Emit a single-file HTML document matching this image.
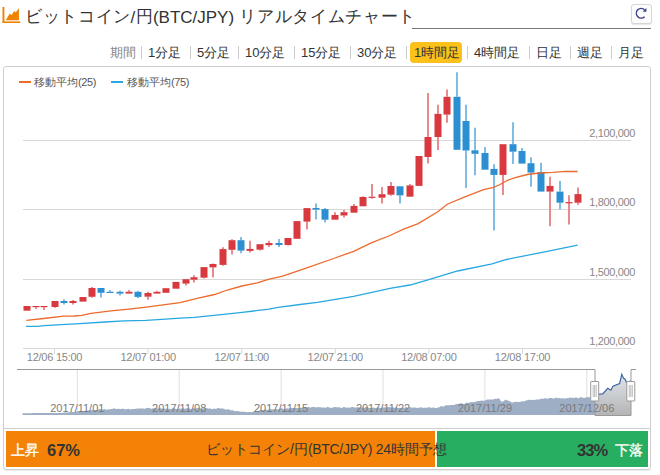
<!DOCTYPE html>
<html><head><meta charset="utf-8">
<style>
*{box-sizing:border-box}
html,body{margin:0;padding:0;width:660px;height:475px;overflow:hidden;background:#fff;font-family:"Liberation Sans",sans-serif;color:#333}
.abs{position:absolute}
.c{display:inline-block;width:1em;text-align:center}
.jp .c{width:calc(1em + 0.6px);position:relative;top:-1px}.jp2 .c{width:calc(1em + 0.7px);position:relative;top:-1px}
.tofu .c{transform:translate(0.06em,-0.02em) scale(1.45,1.2)}
.lgd{font-size:11px;line-height:14px;color:#555;white-space:nowrap;top:75px}
.title{left:25px;top:5.5px;font-size:17px;line-height:24px;white-space:nowrap;color:#333}
.uline{left:412px;top:28px;width:239px;height:1px;background:#777}
.btn{left:631px;top:4px;width:21px;height:20px;border:1px solid #d6d6d6;border-radius:3px;background:#fcfcfc;box-shadow:0 1px 1px rgba(0,0,0,.1)}
.tab{top:43px;font-size:13px;line-height:20px;white-space:nowrap;color:#333}
.sep{top:46px;width:1px;height:13px;background:#ccc}
.act{left:410px;top:42px;width:52px;height:21px;background:#fcc11a;border-radius:4px}
.box{left:3px;top:66px;width:648px;height:404px;border:1px solid #cfcfcf;border-radius:3px;box-shadow:0 1px 1px rgba(0,0,0,.08)}
.hsep{left:4px;top:428px;width:646px;height:1px;background:#cfcfcf}
.bar1{left:6px;top:431px;width:429px;height:36px;background:#f38206}
.bar2{left:437px;top:431px;width:211px;height:36px;background:#28ae60}
.btxt{top:431px;height:36px;line-height:36px;white-space:nowrap}
svg text{font-family:"Liberation Sans",sans-serif}
.yl{font-size:11px;fill:#888;letter-spacing:-0.35px}
.xl{font-size:11px;fill:#888;letter-spacing:-0.25px}
.lg{font-size:11px;fill:#555}
.nl{font-size:11px;fill:#7a7a7a}
</style></head><body>
<svg class="abs" style="left:2px;top:6px" width="20" height="18" viewBox="0 0 20 18">
<rect x="0.5" y="1" width="1.9" height="16" fill="#ef8200"/>
<rect x="0.5" y="15.4" width="17.7" height="1.6" fill="#ef8200"/>
<path d="M3.7,14.2 L7.8,7.6 L9.4,9.2 L12.2,5.1 L13.8,6.6 L16.8,1.9 L17,14.2 Z" fill="#ef8200"/>
</svg>
<div class="abs title"><span class="jp"><span class="c">ビ</span><span class="c">ッ</span><span class="c">ト</span><span class="c">コ</span><span class="c">イ</span><span class="c">ン</span>/<span class="c">円</span></span>(BTC/JPY) <span class="jp2"><span class="c">リ</span><span class="c">ア</span><span class="c">ル</span><span class="c">タ</span><span class="c">イ</span><span class="c">ム</span><span class="c">チ</span><span class="c">ャ</span><span class="c">ー</span><span class="c">ト</span></span></div>
<div class="abs uline"></div>
<div class="abs btn"></div>
<svg class="abs" style="left:632px;top:5px" width="18" height="17" viewBox="0 0 18 17">
<path d="M12.6,4.8 A4.85,4.85 0 1 0 12.6,11.7" fill="none" stroke="#3c3d8a" stroke-width="1.45"/>
<path d="M10.6,6.7 L14.4,2.9 L14.4,6.7 Z" fill="#3c3d8a"/>
</svg>
<div class="abs act"></div>
<div class="abs tab" style="left:110px;color:#888"><span class="c">期</span><span class="c">間</span></div>
<div class="abs sep" style="left:141px"></div>
<div class="abs tab" style="left:148px">1<span class="c">分</span><span class="c">足</span></div>
<div class="abs sep" style="left:190px"></div>
<div class="abs tab" style="left:197px">5<span class="c">分</span><span class="c">足</span></div>
<div class="abs sep" style="left:238px"></div>
<div class="abs tab" style="left:245px">10<span class="c">分</span><span class="c">足</span></div>
<div class="abs sep" style="left:294px"></div>
<div class="abs tab" style="left:301px">15<span class="c">分</span><span class="c">足</span></div>
<div class="abs sep" style="left:350px"></div>
<div class="abs tab" style="left:357px">30<span class="c">分</span><span class="c">足</span></div>
<div class="abs sep" style="left:406px"></div>
<div class="abs tab" style="left:414px">1<span class="c">時</span><span class="c">間</span><span class="c">足</span></div>
<div class="abs sep" style="left:467px"></div>
<div class="abs tab" style="left:474px">4<span class="c">時</span><span class="c">間</span><span class="c">足</span></div>
<div class="abs sep" style="left:529px"></div>
<div class="abs tab" style="left:536px"><span class="c">日</span><span class="c">足</span></div>
<div class="abs sep" style="left:570px"></div>
<div class="abs tab" style="left:577px"><span class="c">週</span><span class="c">足</span></div>
<div class="abs sep" style="left:611px"></div>
<div class="abs tab" style="left:618px"><span class="c">月</span><span class="c">足</span></div>
<div class="abs box"></div>
<svg class="abs" style="left:0;top:0" width="660" height="475">
<line x1="23" y1="140.5" x2="631" y2="140.5" stroke="#d8d8d8" stroke-width="1"/>
<text x="635" y="137.0" text-anchor="end" class="yl">2,100,000</text>
<line x1="23" y1="209.5" x2="631" y2="209.5" stroke="#d8d8d8" stroke-width="1"/>
<text x="635" y="206.0" text-anchor="end" class="yl">1,800,000</text>
<line x1="23" y1="279.5" x2="631" y2="279.5" stroke="#d8d8d8" stroke-width="1"/>
<text x="635" y="276.0" text-anchor="end" class="yl">1,500,000</text>
<line x1="23" y1="348.5" x2="631" y2="348.5" stroke="#d8d8d8" stroke-width="1"/>
<text x="635" y="345.0" text-anchor="end" class="yl">1,200,000</text>
<line x1="54.5" y1="348" x2="54.5" y2="354" stroke="#d8d8d8"/>
<text x="54.5" y="361" text-anchor="middle" class="xl">12/06 15:00</text>
<line x1="148.1" y1="348" x2="148.1" y2="354" stroke="#d8d8d8"/>
<text x="148.1" y="361" text-anchor="middle" class="xl">12/07 01:00</text>
<line x1="241.7" y1="348" x2="241.7" y2="354" stroke="#d8d8d8"/>
<text x="241.7" y="361" text-anchor="middle" class="xl">12/07 11:00</text>
<line x1="335.29999999999995" y1="348" x2="335.29999999999995" y2="354" stroke="#d8d8d8"/>
<text x="335.29999999999995" y="361" text-anchor="middle" class="xl">12/07 21:00</text>
<line x1="428.9" y1="348" x2="428.9" y2="354" stroke="#d8d8d8"/>
<text x="428.9" y="361" text-anchor="middle" class="xl">12/08 07:00</text>
<line x1="522.5" y1="348" x2="522.5" y2="354" stroke="#d8d8d8"/>
<text x="522.5" y="361" text-anchor="middle" class="xl">12/08 17:00</text>
<rect x="23.50" y="306" width="7" height="4.7" fill="#d8393e"/>
<line x1="36.00" y1="307.2" x2="36.00" y2="309" stroke="#e98b8e" stroke-width="2"/>
<rect x="32.50" y="306" width="7" height="1.2" fill="#d8393e"/>
<line x1="44.00" y1="307.2" x2="44.00" y2="310" stroke="#e98b8e" stroke-width="2"/>
<rect x="40.50" y="306" width="7" height="1.2" fill="#d8393e"/>
<line x1="55.00" y1="307" x2="55.00" y2="307.7" stroke="#e98b8e" stroke-width="2"/>
<rect x="51.50" y="301" width="7" height="6.0" fill="#d8393e"/>
<line x1="64.00" y1="299.3" x2="64.00" y2="301" stroke="#80bde6" stroke-width="2"/>
<line x1="64.00" y1="303" x2="64.00" y2="304.4" stroke="#80bde6" stroke-width="2"/>
<rect x="60.50" y="301" width="7" height="2.0" fill="#2b8fd1"/>
<line x1="73.00" y1="300" x2="73.00" y2="301" stroke="#e98b8e" stroke-width="2"/>
<line x1="73.00" y1="303" x2="73.00" y2="304.4" stroke="#e98b8e" stroke-width="2"/>
<rect x="69.50" y="301" width="7" height="2.0" fill="#d8393e"/>
<rect x="79.50" y="297" width="7" height="4.6" fill="#d8393e"/>
<line x1="92.00" y1="287" x2="92.00" y2="288" stroke="#e98b8e" stroke-width="2"/>
<line x1="92.00" y1="296.8" x2="92.00" y2="297.8" stroke="#e98b8e" stroke-width="2"/>
<rect x="88.50" y="288" width="7" height="8.8" fill="#d8393e"/>
<line x1="101.00" y1="292.8" x2="101.00" y2="297.6" stroke="#80bde6" stroke-width="2"/>
<rect x="97.50" y="288" width="7" height="4.8" fill="#2b8fd1"/>
<line x1="110.00" y1="290" x2="110.00" y2="291.8" stroke="#80bde6" stroke-width="2"/>
<rect x="106.50" y="291.8" width="7" height="1.2" fill="#2b8fd1"/>
<line x1="120.00" y1="290.4" x2="120.00" y2="291.8" stroke="#80bde6" stroke-width="2"/>
<line x1="120.00" y1="293.6" x2="120.00" y2="295.5" stroke="#80bde6" stroke-width="2"/>
<rect x="116.50" y="291.8" width="7" height="1.8" fill="#2b8fd1"/>
<line x1="129.00" y1="290" x2="129.00" y2="291.8" stroke="#e98b8e" stroke-width="2"/>
<rect x="125.50" y="291.8" width="7" height="1.8" fill="#d8393e"/>
<line x1="138.00" y1="290.8" x2="138.00" y2="291.8" stroke="#80bde6" stroke-width="2"/>
<line x1="138.00" y1="296.9" x2="138.00" y2="297.9" stroke="#80bde6" stroke-width="2"/>
<rect x="134.50" y="291.8" width="7" height="5.1" fill="#2b8fd1"/>
<line x1="148.00" y1="291.8" x2="148.00" y2="293" stroke="#e98b8e" stroke-width="2"/>
<line x1="148.00" y1="296.7" x2="148.00" y2="299.7" stroke="#e98b8e" stroke-width="2"/>
<rect x="144.50" y="293" width="7" height="3.7" fill="#d8393e"/>
<line x1="157.00" y1="290.8" x2="157.00" y2="291.8" stroke="#e98b8e" stroke-width="2"/>
<rect x="153.50" y="291.8" width="7" height="1.8" fill="#d8393e"/>
<rect x="162.50" y="288.2" width="7" height="4.6" fill="#d8393e"/>
<rect x="172.50" y="281.9" width="7" height="6.8" fill="#d8393e"/>
<line x1="186.00" y1="283.6" x2="186.00" y2="285.6" stroke="#e98b8e" stroke-width="2"/>
<rect x="182.50" y="279.2" width="7" height="4.4" fill="#d8393e"/>
<line x1="194.00" y1="275.2" x2="194.00" y2="277.2" stroke="#e98b8e" stroke-width="2"/>
<line x1="194.00" y1="279.7" x2="194.00" y2="282.6" stroke="#e98b8e" stroke-width="2"/>
<rect x="190.50" y="277.2" width="7" height="2.5" fill="#d8393e"/>
<line x1="204.00" y1="277.7" x2="204.00" y2="278.5" stroke="#e98b8e" stroke-width="2"/>
<rect x="200.50" y="267.1" width="7" height="10.6" fill="#d8393e"/>
<line x1="213.00" y1="263.4" x2="213.00" y2="264" stroke="#e98b8e" stroke-width="2"/>
<line x1="213.00" y1="267.4" x2="213.00" y2="277.5" stroke="#e98b8e" stroke-width="2"/>
<rect x="209.50" y="264" width="7" height="3.4" fill="#d8393e"/>
<line x1="223.00" y1="247.2" x2="223.00" y2="249.1" stroke="#e98b8e" stroke-width="2"/>
<line x1="223.00" y1="264.9" x2="223.00" y2="265.8" stroke="#e98b8e" stroke-width="2"/>
<rect x="219.50" y="249.1" width="7" height="15.8" fill="#d8393e"/>
<line x1="232.00" y1="239.3" x2="232.00" y2="240.2" stroke="#e98b8e" stroke-width="2"/>
<line x1="232.00" y1="249.8" x2="232.00" y2="254.5" stroke="#e98b8e" stroke-width="2"/>
<rect x="228.50" y="240.2" width="7" height="9.6" fill="#d8393e"/>
<line x1="241.00" y1="237.1" x2="241.00" y2="240.2" stroke="#80bde6" stroke-width="2"/>
<line x1="241.00" y1="250.6" x2="241.00" y2="253.3" stroke="#80bde6" stroke-width="2"/>
<rect x="237.50" y="240.2" width="7" height="10.4" fill="#2b8fd1"/>
<line x1="250.00" y1="240.8" x2="250.00" y2="248.9" stroke="#e98b8e" stroke-width="2"/>
<line x1="250.00" y1="250.9" x2="250.00" y2="252.6" stroke="#e98b8e" stroke-width="2"/>
<rect x="246.50" y="248.9" width="7" height="2.0" fill="#d8393e"/>
<line x1="260.00" y1="249.7" x2="260.00" y2="250.6" stroke="#e98b8e" stroke-width="2"/>
<rect x="256.50" y="244.2" width="7" height="5.5" fill="#d8393e"/>
<line x1="269.00" y1="240.8" x2="269.00" y2="243" stroke="#e98b8e" stroke-width="2"/>
<line x1="269.00" y1="245.2" x2="269.00" y2="246.9" stroke="#e98b8e" stroke-width="2"/>
<rect x="265.50" y="243" width="7" height="2.2" fill="#d8393e"/>
<line x1="279.00" y1="239.1" x2="279.00" y2="243" stroke="#80bde6" stroke-width="2"/>
<line x1="279.00" y1="245" x2="279.00" y2="246.9" stroke="#80bde6" stroke-width="2"/>
<rect x="275.50" y="243" width="7" height="2.0" fill="#2b8fd1"/>
<line x1="288.00" y1="245" x2="288.00" y2="245.5" stroke="#e98b8e" stroke-width="2"/>
<rect x="284.50" y="238" width="7" height="7.0" fill="#d8393e"/>
<rect x="293.50" y="221.1" width="7" height="17.7" fill="#d8393e"/>
<line x1="307.00" y1="221.6" x2="307.00" y2="229.5" stroke="#e98b8e" stroke-width="2"/>
<rect x="303.50" y="208.1" width="7" height="13.5" fill="#d8393e"/>
<line x1="316.00" y1="203.4" x2="316.00" y2="208" stroke="#80bde6" stroke-width="2"/>
<line x1="316.00" y1="209.6" x2="316.00" y2="219.5" stroke="#80bde6" stroke-width="2"/>
<rect x="312.50" y="208" width="7" height="1.6" fill="#2b8fd1"/>
<line x1="325.00" y1="208" x2="325.00" y2="209.1" stroke="#80bde6" stroke-width="2"/>
<line x1="325.00" y1="219.7" x2="325.00" y2="222.6" stroke="#80bde6" stroke-width="2"/>
<rect x="321.50" y="209.1" width="7" height="10.6" fill="#2b8fd1"/>
<line x1="335.00" y1="212.2" x2="335.00" y2="215" stroke="#e98b8e" stroke-width="2"/>
<rect x="331.50" y="215" width="7" height="4.7" fill="#d8393e"/>
<line x1="344.00" y1="210.1" x2="344.00" y2="212.2" stroke="#e98b8e" stroke-width="2"/>
<line x1="344.00" y1="215.5" x2="344.00" y2="217.5" stroke="#e98b8e" stroke-width="2"/>
<rect x="340.50" y="212.2" width="7" height="3.3" fill="#d8393e"/>
<line x1="354.00" y1="204.1" x2="354.00" y2="205.9" stroke="#e98b8e" stroke-width="2"/>
<rect x="350.50" y="205.9" width="7" height="6.8" fill="#d8393e"/>
<line x1="363.00" y1="196.2" x2="363.00" y2="197" stroke="#e98b8e" stroke-width="2"/>
<rect x="359.50" y="197" width="7" height="9.3" fill="#d8393e"/>
<line x1="372.00" y1="183.9" x2="372.00" y2="196.7" stroke="#e98b8e" stroke-width="2"/>
<line x1="372.00" y1="197.8" x2="372.00" y2="198.7" stroke="#e98b8e" stroke-width="2"/>
<rect x="368.50" y="196.7" width="7" height="1.2" fill="#d8393e"/>
<line x1="382.00" y1="187.1" x2="382.00" y2="194.2" stroke="#e98b8e" stroke-width="2"/>
<line x1="382.00" y1="197.7" x2="382.00" y2="203.5" stroke="#e98b8e" stroke-width="2"/>
<rect x="378.50" y="194.2" width="7" height="3.5" fill="#d8393e"/>
<line x1="391.00" y1="182.1" x2="391.00" y2="186" stroke="#e98b8e" stroke-width="2"/>
<line x1="391.00" y1="194.7" x2="391.00" y2="195.8" stroke="#e98b8e" stroke-width="2"/>
<rect x="387.50" y="186" width="7" height="8.7" fill="#d8393e"/>
<line x1="400.00" y1="195.4" x2="400.00" y2="203.4" stroke="#80bde6" stroke-width="2"/>
<rect x="396.50" y="186.3" width="7" height="9.1" fill="#2b8fd1"/>
<line x1="410.00" y1="184" x2="410.00" y2="185.4" stroke="#e98b8e" stroke-width="2"/>
<rect x="406.50" y="185.4" width="7" height="11.3" fill="#d8393e"/>
<rect x="415.50" y="156" width="7" height="29.9" fill="#d8393e"/>
<line x1="428.00" y1="93" x2="428.00" y2="137" stroke="#e98b8e" stroke-width="2"/>
<line x1="428.00" y1="157" x2="428.00" y2="163.6" stroke="#e98b8e" stroke-width="2"/>
<rect x="424.50" y="137" width="7" height="20.0" fill="#d8393e"/>
<line x1="438.00" y1="104.8" x2="438.00" y2="113.9" stroke="#e98b8e" stroke-width="2"/>
<line x1="438.00" y1="137" x2="438.00" y2="149.9" stroke="#e98b8e" stroke-width="2"/>
<rect x="434.50" y="113.9" width="7" height="23.1" fill="#d8393e"/>
<line x1="447.00" y1="89.6" x2="447.00" y2="96.8" stroke="#e98b8e" stroke-width="2"/>
<line x1="447.00" y1="114.6" x2="447.00" y2="122.8" stroke="#e98b8e" stroke-width="2"/>
<rect x="443.50" y="96.8" width="7" height="17.8" fill="#d8393e"/>
<line x1="457.00" y1="72.2" x2="457.00" y2="96.8" stroke="#80bde6" stroke-width="2"/>
<rect x="453.50" y="96.8" width="7" height="53.0" fill="#2b8fd1"/>
<line x1="466.00" y1="104.8" x2="466.00" y2="121" stroke="#80bde6" stroke-width="2"/>
<line x1="466.00" y1="150.5" x2="466.00" y2="188" stroke="#80bde6" stroke-width="2"/>
<rect x="462.50" y="121" width="7" height="29.5" fill="#2b8fd1"/>
<line x1="475.00" y1="127.8" x2="475.00" y2="150.3" stroke="#80bde6" stroke-width="2"/>
<line x1="475.00" y1="153.8" x2="475.00" y2="175.2" stroke="#80bde6" stroke-width="2"/>
<rect x="471.50" y="150.3" width="7" height="3.5" fill="#2b8fd1"/>
<line x1="485.00" y1="147" x2="485.00" y2="153" stroke="#80bde6" stroke-width="2"/>
<rect x="481.50" y="153" width="7" height="16.7" fill="#2b8fd1"/>
<line x1="494.00" y1="164.2" x2="494.00" y2="168.9" stroke="#80bde6" stroke-width="2"/>
<line x1="494.00" y1="174.9" x2="494.00" y2="230.5" stroke="#80bde6" stroke-width="2"/>
<rect x="490.50" y="168.9" width="7" height="6.0" fill="#2b8fd1"/>
<line x1="503.00" y1="174.9" x2="503.00" y2="194.9" stroke="#e98b8e" stroke-width="2"/>
<rect x="499.50" y="144.2" width="7" height="30.7" fill="#d8393e"/>
<line x1="513.00" y1="122.3" x2="513.00" y2="144.2" stroke="#80bde6" stroke-width="2"/>
<line x1="513.00" y1="151.7" x2="513.00" y2="164" stroke="#80bde6" stroke-width="2"/>
<rect x="509.50" y="144.2" width="7" height="7.5" fill="#2b8fd1"/>
<line x1="522.00" y1="148" x2="522.00" y2="151" stroke="#80bde6" stroke-width="2"/>
<rect x="518.50" y="151" width="7" height="12.6" fill="#2b8fd1"/>
<line x1="531.00" y1="157.3" x2="531.00" y2="163.2" stroke="#80bde6" stroke-width="2"/>
<line x1="531.00" y1="172.6" x2="531.00" y2="186.7" stroke="#80bde6" stroke-width="2"/>
<rect x="527.50" y="163.2" width="7" height="9.4" fill="#2b8fd1"/>
<line x1="541.00" y1="162.7" x2="541.00" y2="172" stroke="#80bde6" stroke-width="2"/>
<rect x="537.50" y="172" width="7" height="19.6" fill="#2b8fd1"/>
<line x1="550.00" y1="176.8" x2="550.00" y2="185.9" stroke="#e98b8e" stroke-width="2"/>
<line x1="550.00" y1="191.6" x2="550.00" y2="226.3" stroke="#e98b8e" stroke-width="2"/>
<rect x="546.50" y="185.9" width="7" height="5.7" fill="#d8393e"/>
<line x1="560.00" y1="181" x2="560.00" y2="191.6" stroke="#80bde6" stroke-width="2"/>
<line x1="560.00" y1="202.7" x2="560.00" y2="209.5" stroke="#80bde6" stroke-width="2"/>
<rect x="556.50" y="191.6" width="7" height="11.1" fill="#2b8fd1"/>
<line x1="569.00" y1="195.2" x2="569.00" y2="202.1" stroke="#e98b8e" stroke-width="2"/>
<line x1="569.00" y1="202.9" x2="569.00" y2="224.6" stroke="#e98b8e" stroke-width="2"/>
<rect x="565.50" y="202.1" width="7" height="1.2" fill="#d8393e"/>
<line x1="578.00" y1="187.4" x2="578.00" y2="194.1" stroke="#e98b8e" stroke-width="2"/>
<line x1="578.00" y1="202.7" x2="578.00" y2="204.8" stroke="#e98b8e" stroke-width="2"/>
<rect x="574.50" y="194.1" width="7" height="8.6" fill="#d8393e"/>
<polyline points="26.0,326.3 37.0,326.3 44.2,325.6 56.4,324.9 75.8,323.9 104.8,322.0 124.2,320.8 146.0,320.3 165.5,319.1 180.0,318.2 194.5,317.3 216.4,315.1 240.0,312.7 269.1,309.1 278.2,307.3 300.0,304.5 317.3,302.3 353.6,296.3 390.0,288.3 410.0,285.0 428.8,279.6 457.6,271.0 492.1,263.8 506.5,259.5 549.7,250.8 577.6,245.1" fill="none" stroke="#29a8e0" stroke-width="1.3"/>
<polyline points="26.4,320.4 43.6,318.5 63.6,316.2 74.5,316.0 81.8,315.3 90.9,313.3 110.9,310.9 129.0,309.1 148.2,306.9 180.0,302.6 198.2,298.2 214.5,294.5 227.3,290.0 241.8,286.0 258.2,282.7 269.1,279.1 281.8,276.4 290.0,273.6 308.2,267.3 333.6,258.5 353.6,251.3 371.8,242.7 390.0,235.5 403.6,229.1 418.2,223.6 438.2,211.5 447.3,204.2 463.6,197.3 483.6,189.6 493.6,187.3 500.0,184.5 507.6,180.3 515.2,177.7 527.3,174.5 539.4,173.0 553.0,172.3 565.2,171.4 577.6,171.5" fill="none" stroke="#ec6a2c" stroke-width="1.3"/>
<line x1="19" y1="82" x2="31" y2="82" stroke="#ec6a2c" stroke-width="2"/>
<line x1="111" y1="82" x2="123" y2="82" stroke="#29a8e0" stroke-width="2"/>
<line x1="77.3" y1="370" x2="77.3" y2="415" stroke="#e0e0e0"/>
<line x1="179.2" y1="370" x2="179.2" y2="415" stroke="#e0e0e0"/>
<line x1="281.1" y1="370" x2="281.1" y2="415" stroke="#e0e0e0"/>
<line x1="383.0" y1="370" x2="383.0" y2="415" stroke="#e0e0e0"/>
<line x1="484.9" y1="370" x2="484.9" y2="415" stroke="#e0e0e0"/>
<line x1="586.8" y1="370" x2="586.8" y2="415" stroke="#e0e0e0"/>
<path d="M22.4,415 L22.4,413.2 L23.9,413.2 L25.4,413.2 L26.9,413.2 L28.4,413.2 L29.9,413.2 L31.4,413.2 L32.9,413.1 L34.4,413.1 L35.9,413.1 L37.4,413.1 L38.9,413.1 L40.4,413.1 L41.9,413.1 L43.4,413.1 L44.9,413.1 L46.4,413.1 L47.9,413.1 L49.4,413.1 L50.9,413.0 L52.4,413.0 L53.9,413.0 L55.4,413.0 L56.9,413.0 L58.4,413.0 L59.9,413.0 L61.4,412.9 L62.9,412.8 L64.4,412.6 L65.9,412.5 L67.4,412.4 L68.9,412.2 L70.4,412.1 L71.9,412.0 L73.4,411.9 L74.9,411.7 L76.4,411.6 L77.9,411.5 L79.4,411.3 L80.9,411.2 L82.4,411.1 L83.9,411.0 L85.4,410.8 L86.9,410.7 L88.4,410.6 L89.9,410.4 L91.4,410.0 L92.9,410.2 L94.4,409.9 L95.9,410.1 L97.4,410.0 L98.9,409.3 L100.4,409.1 L101.9,410.0 L103.4,409.3 L104.9,409.1 L106.4,409.9 L107.9,409.2 L109.4,409.5 L110.9,408.9 L112.4,409.0 L113.9,408.3 L115.4,408.7 L116.9,409.0 L118.4,408.7 L119.9,409.0 L121.4,409.0 L122.9,408.4 L124.4,409.3 L125.9,409.2 L127.4,408.9 L128.9,408.7 L130.4,409.7 L131.9,409.0 L133.4,409.1 L134.9,409.1 L136.4,408.6 L137.9,408.8 L139.4,408.2 L140.9,408.7 L142.4,408.2 L143.9,408.8 L145.4,408.8 L146.9,407.8 L148.4,407.9 L149.9,408.0 L151.4,408.9 L152.9,408.3 L154.4,408.5 L155.9,408.1 L157.4,408.4 L158.9,408.2 L160.4,408.2 L161.9,408.5 L163.4,408.5 L164.9,408.9 L166.4,408.6 L167.9,408.9 L169.4,408.8 L170.9,409.0 L172.4,408.6 L173.9,408.0 L175.4,408.8 L176.9,409.0 L178.4,408.9 L179.9,408.5 L181.4,408.7 L182.9,408.1 L184.4,408.8 L185.9,408.5 L187.4,408.2 L188.9,407.9 L190.4,408.9 L191.9,409.0 L193.4,407.9 L194.9,408.8 L196.4,408.3 L197.9,408.0 L199.4,408.2 L200.9,408.8 L202.4,408.9 L203.9,407.9 L205.4,408.6 L206.9,407.9 L208.4,408.7 L209.9,408.3 L211.4,408.9 L212.9,409.1 L214.4,408.5 L215.9,409.1 L217.4,408.3 L218.9,408.0 L220.4,408.8 L221.9,408.3 L223.4,408.7 L224.9,409.2 L226.4,409.7 L227.9,409.3 L229.4,409.4 L230.9,410.6 L232.4,410.1 L233.9,411.1 L235.4,411.3 L236.9,410.9 L238.4,411.2 L239.9,411.5 L241.4,411.7 L242.9,411.7 L244.4,411.8 L245.9,411.9 L247.4,412.3 L248.9,411.9 L250.4,411.9 L251.9,412.3 L253.4,411.4 L254.9,411.1 L256.4,411.6 L257.9,410.8 L259.4,410.5 L260.9,409.6 L262.4,410.0 L263.9,410.1 L265.4,409.3 L266.9,409.9 L268.4,409.8 L269.9,409.0 L271.4,409.6 L272.9,409.3 L274.4,409.5 L275.9,409.0 L277.4,409.3 L278.9,409.3 L280.4,408.3 L281.9,408.3 L283.4,409.0 L284.9,409.2 L286.4,408.3 L287.9,408.5 L289.4,408.5 L290.9,408.1 L292.4,408.1 L293.9,408.0 L295.4,408.0 L296.9,408.2 L298.4,407.7 L299.9,407.7 L301.4,408.1 L302.9,407.2 L304.4,407.7 L305.9,407.8 L307.4,407.3 L308.9,407.1 L310.4,407.8 L311.9,407.1 L313.4,407.0 L314.9,407.3 L316.4,407.6 L317.9,406.9 L319.4,407.2 L320.9,407.2 L322.4,407.8 L323.9,407.3 L325.4,407.9 L326.9,407.0 L328.4,407.2 L329.9,407.6 L331.4,407.9 L332.9,407.4 L334.4,407.1 L335.9,407.0 L337.4,407.5 L338.9,407.1 L340.4,407.8 L341.9,407.9 L343.4,407.1 L344.9,407.2 L346.4,407.8 L347.9,407.6 L349.4,407.8 L350.9,407.3 L352.4,407.0 L353.9,407.2 L355.4,407.8 L356.9,407.2 L358.4,407.3 L359.9,407.4 L361.4,407.4 L362.9,407.4 L364.4,408.0 L365.9,407.1 L367.4,406.9 L368.9,408.0 L370.4,408.0 L371.9,408.1 L373.4,407.4 L374.9,408.0 L376.4,408.0 L377.9,407.2 L379.4,407.8 L380.9,407.9 L382.4,407.7 L383.9,407.5 L385.4,407.3 L386.9,407.3 L388.4,407.2 L389.9,407.0 L391.4,407.6 L392.9,407.3 L394.4,407.9 L395.9,407.0 L397.4,408.0 L398.9,407.8 L400.4,408.1 L401.9,408.0 L403.4,408.0 L404.9,407.6 L406.4,407.0 L407.9,407.9 L409.4,407.2 L410.9,407.3 L412.4,407.8 L413.9,407.6 L415.4,407.5 L416.9,408.1 L418.4,407.7 L419.9,407.4 L421.4,407.3 L422.9,408.0 L424.4,407.6 L425.9,407.9 L427.4,407.4 L428.9,407.2 L430.4,407.6 L431.9,408.0 L433.4,407.2 L434.9,407.9 L436.4,407.9 L437.9,407.5 L439.4,407.3 L440.9,406.0 L442.4,406.5 L443.9,406.4 L445.4,405.3 L446.9,405.3 L448.4,405.2 L449.9,405.3 L451.4,405.0 L452.9,404.9 L454.4,405.1 L455.9,404.0 L457.4,403.9 L458.9,403.8 L460.4,403.6 L461.9,403.3 L463.4,404.1 L464.9,403.8 L466.4,402.6 L467.9,402.9 L469.4,402.4 L470.9,402.2 L472.4,402.0 L473.9,402.2 L475.4,401.8 L476.9,401.3 L478.4,400.9 L479.9,400.9 L481.4,400.4 L482.9,400.7 L484.4,400.7 L485.9,400.1 L487.4,399.5 L488.9,399.4 L490.4,399.4 L491.9,399.5 L493.4,399.5 L494.9,398.8 L496.4,399.0 L497.9,398.6 L499.4,398.5 L500.9,401.4 L502.4,401.8 L503.9,400.9 L505.4,399.5 L506.9,400.3 L508.4,400.8 L509.9,401.2 L511.4,402.3 L512.9,402.7 L514.4,401.7 L515.9,401.9 L517.4,401.7 L518.9,402.0 L520.4,401.9 L521.9,401.0 L523.4,401.4 L524.9,401.1 L526.4,400.2 L527.9,400.2 L529.4,399.6 L530.9,400.2 L532.4,399.8 L533.9,399.9 L535.4,399.7 L536.9,399.5 L538.4,399.5 L539.9,399.2 L541.4,398.5 L542.9,399.0 L544.4,398.3 L545.9,398.3 L547.4,399.0 L548.9,398.1 L550.4,398.0 L551.9,398.0 L553.4,398.8 L554.9,397.9 L556.4,397.6 L557.9,398.6 L559.4,397.7 L560.9,398.5 L562.4,398.2 L563.9,398.4 L565.4,398.5 L566.9,398.0 L568.4,398.2 L569.9,397.3 L571.4,398.1 L572.9,397.8 L574.4,398.0 L575.9,397.2 L577.4,398.0 L578.9,398.2 L580.4,397.1 L581.9,397.4 L583.4,397.7 L584.9,398.0 L586.4,397.3 L587.9,397.2 L589.4,397.3 L590.9,397.7 L592.4,397.8 L593.9,397.4 L595,397.5 L595,415 Z" fill="#9eaec5"/>
<defs><linearGradient id="g1" x1="0" y1="0" x2="0" y2="1"><stop offset="0" stop-color="#dfe5ec"/><stop offset="1" stop-color="#b4b4b4"/></linearGradient></defs>
<path d="M595,394.5 L599,394.2 L602.7,394 L607.8,388.3 L610.8,390.2 L613,386.2 L619.6,383.6 L621.8,374.3 L623.6,378.4 L625.1,379.2 L626.3,382.1 L631,381 L631,415.5 L595,415.5 Z" fill="url(#g1)"/>
<path d="M595,394.5 L599,394.2 L602.7,394 L607.8,388.3 L610.8,390.2 L613,386.2 L619.6,383.6 L621.8,374.3 L623.6,378.4 L625.1,379.2 L626.3,382.1 L631,381" fill="none" stroke="#3b64a4" stroke-width="1.2"/>
<text x="77.3" y="412" text-anchor="middle" class="nl">2017/11/01</text>
<text x="179.2" y="412" text-anchor="middle" class="nl">2017/11/08</text>
<text x="281.1" y="412" text-anchor="middle" class="nl">2017/11/15</text>
<text x="383.0" y="412" text-anchor="middle" class="nl">2017/11/22</text>
<text x="484.9" y="412" text-anchor="middle" class="nl">2017/11/29</text>
<text x="586.8" y="412" text-anchor="middle" class="nl">2017/12/06</text>
<path d="M17,369.5 H595 V415.5 H631 V369.5 H636" fill="none" stroke="#999" stroke-width="1"/>
<rect x="590.7" y="381.5" width="8" height="19.5" fill="#fff" stroke="#999" stroke-width="1" rx="0.5"/>
<line x1="593.2" y1="385" x2="593.2" y2="397" stroke="#aaa" stroke-width="0.8"/>
<line x1="594.7" y1="385" x2="594.7" y2="397" stroke="#aaa" stroke-width="0.8"/>
<line x1="596.2" y1="385" x2="596.2" y2="397" stroke="#aaa" stroke-width="0.8"/>
<rect x="626.8" y="381.5" width="8" height="19.5" fill="#fff" stroke="#999" stroke-width="1" rx="0.5"/>
<line x1="629.3" y1="385" x2="629.3" y2="397" stroke="#aaa" stroke-width="0.8"/>
<line x1="630.8" y1="385" x2="630.8" y2="397" stroke="#aaa" stroke-width="0.8"/>
<line x1="632.3" y1="385" x2="632.3" y2="397" stroke="#aaa" stroke-width="0.8"/>
</svg>
<div class="abs lgd" style="left:34px"><span class="c">移</span><span class="c">動</span><span class="c">平</span><span class="c">均</span><span style="letter-spacing:-0.4px">(25)</span></div>
<div class="abs lgd" style="left:127px"><span class="c">移</span><span class="c">動</span><span class="c">平</span><span class="c">均</span><span style="letter-spacing:-0.4px">(75)</span></div>
<div class="abs hsep"></div>
<div class="abs bar1"></div>
<div class="abs bar2"></div>
<div class="abs btxt" style="left:11px;top:432px;color:#fff;font-size:14px;font-weight:normal;-webkit-text-stroke:0.35px #fff"><span class="c">上</span><span class="c">昇</span></div>
<div class="abs btxt" style="left:47px;top:432px;color:#333;font-size:16.5px;font-weight:bold">67%</div>
<div class="abs btxt" style="left:206px;width:250px;color:#333;font-size:14px"><span class="c">ビ</span><span class="c">ッ</span><span class="c">ト</span><span class="c">コ</span><span class="c">イ</span><span class="c">ン</span>/<span class="c">円</span><span style="letter-spacing:-0.3px">(BTC/JPY) 24</span><span class="c">時</span><span class="c">間</span><span class="c">予</span><span class="c">想</span></div>
<div class="abs btxt" style="left:577px;top:432px;color:#333;font-size:16.5px;font-weight:bold;letter-spacing:-0.9px">33%</div>
<div class="abs btxt" style="left:615px;top:432px;color:#fff;font-size:14px;font-weight:normal;-webkit-text-stroke:0.35px #fff"><span class="c">下</span><span class="c">落</span></div>
<script>
(function(){try{var t=document.createElement('span');t.style.cssText='position:absolute;left:-999px;top:0;font-size:100px;white-space:nowrap;font-family:"Liberation Sans",sans-serif';t.textContent='ビ円';document.body.appendChild(t);var w=t.getBoundingClientRect().width;document.body.removeChild(t);if(w<176)document.documentElement.className+=' tofu';}catch(e){}})();
</script>
</body></html>
